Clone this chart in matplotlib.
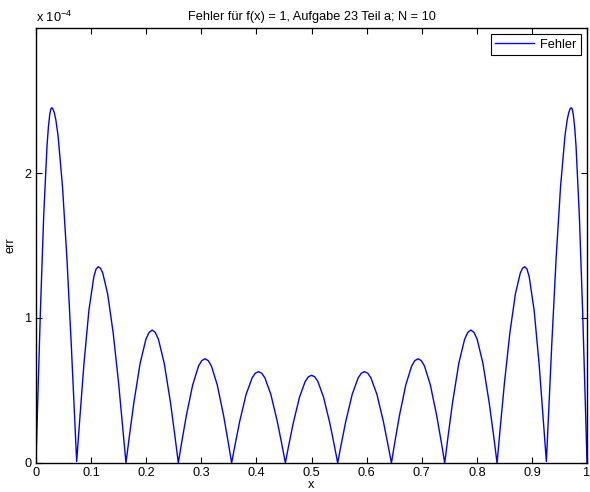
import numpy as np
import matplotlib
matplotlib.use('Agg')
import matplotlib.pyplot as plt

plt.rcParams['font.family'] = ['Liberation Sans', 'DejaVu Sans']
plt.rcParams['mathtext.fontset'] = 'custom'
plt.rcParams['mathtext.rm'] = 'Liberation Sans'
plt.rcParams['mathtext.it'] = 'Liberation Sans'

# error arches, y in units of 1e-4
arch1_x = [0, 0.003, 0.008, 0.014, 0.020, 0.0225, 0.025, 0.027, 0.0285, 0.030, 0.033, 0.036,
           0.040, 0.048, 0.056, 0.064, 0.070, 0.0738]
arch1_y = [0, 0.403, 1.046, 1.707, 2.186, 2.317, 2.404, 2.442, 2.45, 2.447, 2.420, 2.367,
           2.259, 1.911, 1.421, 0.819, 0.321, 0.01]
arch2_x = [0.0738, 0.079, 0.087, 0.096, 0.105, 0.109, 0.113, 0.117, 0.121, 0.130, 0.140, 0.150, 0.158, 0.1633]
arch2_y = [0.01, 0.280, 0.683, 1.052, 1.285, 1.337, 1.354, 1.343, 1.312, 1.167, 0.899, 0.548, 0.223, 0]
arch3_x = [0.1633, 0.1690, 0.1776, 0.1890, 0.1994, 0.2051, 0.2108, 0.2165, 0.2222, 0.2327, 0.2441, 0.2526, 0.2583]
arch3_y = [0, 0.172, 0.416, 0.688, 0.853, 0.900, 0.917, 0.900, 0.853, 0.688, 0.416, 0.172, 0]
arch4_x = [0.2583, 0.2641, 0.2728, 0.2844, 0.2950, 0.3008, 0.3067, 0.3125, 0.3183, 0.3289, 0.3405, 0.3492, 0.355]
arch4_y = [0, 0.135, 0.326, 0.539, 0.669, 0.706, 0.719, 0.706, 0.669, 0.539, 0.326, 0.135, 0]
arch5_x = [0.355, 0.3609, 0.3696, 0.3813, 0.3921, 0.3979, 0.4038, 0.4096, 0.4155, 0.4262, 0.4379, 0.4467, 0.4525]
arch5_y = [0, 0.118, 0.286, 0.473, 0.586, 0.619, 0.630, 0.619, 0.586, 0.473, 0.286, 0.118, 0]
arch6_x = [0.4525, 0.4582, 0.4668, 0.4782, 0.4886, 0.4943, 0.5, 0.5057, 0.5114, 0.5218, 0.5332, 0.5418, 0.5475]
arch6_y = [0, 0.113, 0.275, 0.454, 0.563, 0.594, 0.605, 0.594, 0.563, 0.454, 0.275, 0.113, 0]
arch7_x = [0.5475, 0.5533, 0.5621, 0.5738, 0.5845, 0.5904, 0.5962, 0.6021, 0.6079, 0.6187, 0.6304, 0.6391, 0.645]
arch7_y = [0, 0.118, 0.286, 0.473, 0.586, 0.619, 0.630, 0.619, 0.586, 0.473, 0.286, 0.118, 0]
arch8_x = [0.645, 0.6508, 0.6595, 0.6711, 0.6817, 0.6875, 0.6933, 0.6992, 0.7050, 0.7156, 0.7272, 0.7359, 0.7417]
arch8_y = [0, 0.135, 0.326, 0.539, 0.669, 0.706, 0.719, 0.706, 0.669, 0.539, 0.326, 0.135, 0]
arch9_x = [0.7417, 0.7474, 0.7559, 0.7673, 0.7778, 0.7835, 0.7892, 0.7949, 0.8006, 0.8110, 0.8224, 0.8310, 0.8367]
arch9_y = [0, 0.172, 0.416, 0.688, 0.853, 0.900, 0.917, 0.900, 0.853, 0.688, 0.416, 0.172, 0]
arch10_x = [0.8367, 0.842, 0.850, 0.860, 0.870, 0.879, 0.883, 0.887, 0.891, 0.895, 0.904, 0.913, 0.921, 0.9262]
arch10_y = [0, 0.223, 0.548, 0.899, 1.167, 1.312, 1.343, 1.354, 1.337, 1.285, 1.052, 0.683, 0.280, 0.01]
arch11_x = [0.9262, 0.930, 0.936, 0.944, 0.952, 0.960, 0.964, 0.967, 0.970, 0.9715, 0.973, 0.975,
            0.9775, 0.980, 0.986, 0.992, 0.997, 1.0]
arch11_y = [0.01, 0.321, 0.819, 1.421, 1.911, 2.259, 2.367, 2.420, 2.447, 2.45, 2.442, 2.404,
            2.317, 2.186, 1.707, 1.046, 0.403, 0]

xs = [arch1_x, arch2_x, arch3_x, arch4_x, arch5_x, arch6_x,
      arch7_x, arch8_x, arch9_x, arch10_x, arch11_x]
ys = [arch1_y, arch2_y, arch3_y, arch4_y, arch5_y, arch6_y,
      arch7_y, arch8_y, arch9_y, arch10_y, arch11_y]
x = np.concatenate(xs)
err = np.concatenate(ys) * 1e-4

xticks = np.arange(0, 1.01, 0.1)
xticklabels = ['0', '0.1', '0.2', '0.3', '0.4', '0.5', '0.6', '0.7', '0.8', '0.9', '1']
yticks = [0, 1e-4, 2e-4]
yticklabels = ['0', '1', '2']

fs = 9.2
fig = plt.figure(figsize=(5.9, 4.92), dpi=100)
ax = fig.add_axes([0.061, 0.059, 0.934, 0.884])
ax.plot(x, err, color='#0000ff', lw=1.0, label='Fehler')

ax.set_xlim(0, 1)
ax.set_ylim(0, 3e-4)
ax.set_xticks(xticks)
ax.set_xticklabels(xticklabels)
ax.set_yticks(yticks)
ax.set_yticklabels(yticklabels)
ax.tick_params(direction='in', top=True, right=True, length=4, width=0.8,
               labelsize=fs, pad=3)
for s in ax.spines.values():
    s.set_linewidth(1.0)

ax.set_title('Fehler für f(x) = 1, Aufgabe 23 Teil a; N = 10', fontsize=fs, pad=6)
ax.set_xlabel('x', fontsize=fs, labelpad=0)
ax.set_ylabel('err', fontsize=fs, labelpad=6)
ax.text(0.0, 1.008, r'x 10$^{-4}$', transform=ax.transAxes, fontsize=fs,
        ha='left', va='bottom')

leg = ax.legend(loc='upper right', fontsize=fs, fancybox=False, framealpha=1,
                edgecolor='black', borderaxespad=0.5, handlelength=3.0,
                handletextpad=0.5, borderpad=0.35)
leg.get_frame().set_linewidth(0.8)

fig.savefig('out.png', dpi=100)
